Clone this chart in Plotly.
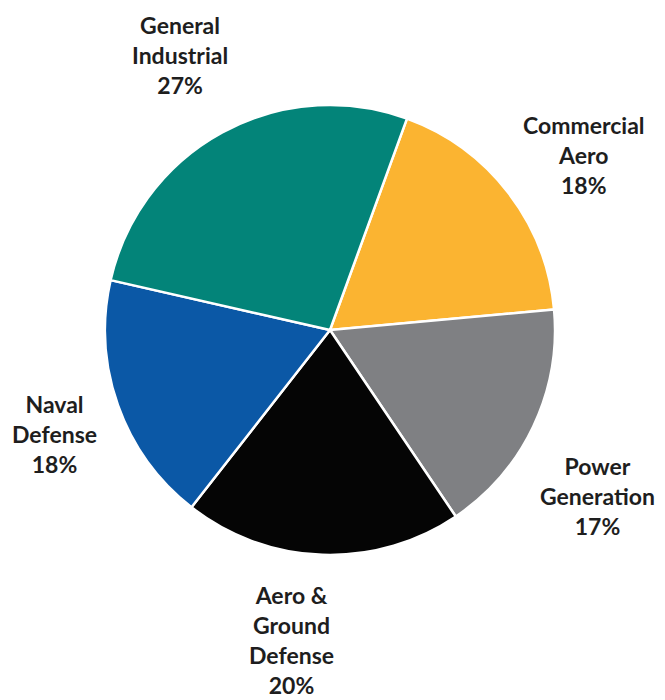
import math
import plotly.graph_objects as go

labels = ["Commercial Aero", "Power Generation", "Aero & Ground Defense", "Naval Defense", "General Industrial"]
label_text = ["Commercial<br>Aero", "Power<br>Generation", "Aero &<br>Ground<br>Defense", "Naval<br>Defense", "General<br>Industrial"]
values = [18, 17, 20, 18, 27]
colors = ["#FBB431", "#7F8083", "#050505", "#0B58A6", "#038479"]

# label placement tweaks (angle offset in degrees, distance as multiple of radius)
label_angle_offset = [3, 6.5, 5, -1, 0]
label_dist = [1.37, 1.40, 1.39, 1.31, 1.39]

W, H = 665, 700
ml, mr, mt, mb = 97, 118, 97, 153
rotation = 20

fig = go.Figure(go.Pie(
    labels=labels, values=values, sort=False, direction="clockwise",
    rotation=rotation, textinfo="none", hoverinfo="label+percent",
    marker=dict(colors=colors, line=dict(color="white", width=2.5)),
    showlegend=False,
))

pw, ph = W - ml - mr, H - mt - mb
R = min(pw, ph) / 2
cx, cy = ml + pw / 2, mt + ph / 2
total = sum(values)
cum = 0
for lab, v, da, dk in zip(label_text, values, label_angle_offset, label_dist):
    mid = rotation + (cum + v / 2) / total * 360 + da
    cum += v
    rr = R * dk
    px = cx + rr * math.sin(math.radians(mid))
    py = cy - rr * math.cos(math.radians(mid))
    fig.add_annotation(
        x=(px - ml) / pw, y=(H - mb - py) / ph, xref="paper", yref="paper",
        text=f"<b>{lab}<br>{round(v / total * 100)}%</b>", showarrow=False,
        font=dict(family="Lato, Open Sans, sans-serif", size=23, color="#1e1e1e"),
        align="center", xanchor="center", yanchor="middle",
    )

fig.update_layout(
    width=W, height=H, margin=dict(l=ml, r=mr, t=mt, b=mb),
    paper_bgcolor="white", plot_bgcolor="white",
)
fig.write_html("out.html")
